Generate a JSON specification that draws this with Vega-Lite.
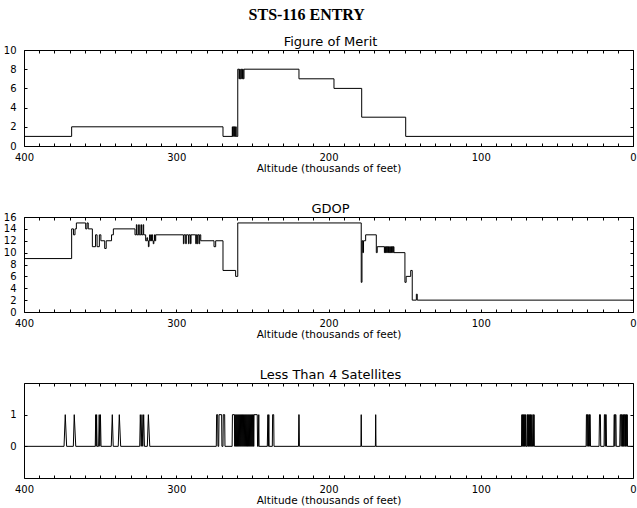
{
"$schema": "https://vega.github.io/schema/vega-lite/v6.json",
"padding": {"left": 3, "top": 7, "right": 3, "bottom": 2},
"title": {"text": "STS-116 ENTRY", "font": "Liberation Serif", "fontSize": 16, "fontWeight": "bold", "anchor": "middle", "offset": 13, "dx": -13, "color": "black"},
"bounds": "flush",
"spacing": 71,
"datasets": {
"fom": [
{"alt":0,"v":1},{"alt":149.3,"v":3},{"alt":178.2,"v":6},{"alt":196.4,"v":7},{"alt":219.4,"v":8},{"alt":255.5,"v":7},{"alt":256,"v":8},{"alt":256.5,"v":7},{"alt":257,"v":8},{"alt":257.5,"v":7},{"alt":258,"v":8},{"alt":258.4,"v":7},{"alt":258.8,"v":8},{"alt":259.6,"v":1},{"alt":260.6,"v":2},{"alt":261,"v":1},{"alt":261.4,"v":2},{"alt":261.8,"v":1},{"alt":262.2,"v":2},{"alt":262.6,"v":1},{"alt":263,"v":2},{"alt":263.2,"v":1},{"alt":269.3,"v":2},{"alt":368.7,"v":1},{"alt":400,"v":1}
],
"gdop": [
{"alt":0,"v":2},{"alt":141.7,"v":3},{"alt":142.3,"v":2},{"alt":145,"v":7},{"alt":146,"v":6},{"alt":149,"v":5},{"alt":149.8,"v":10},{"alt":157,"v":11},{"alt":157.4,"v":10},{"alt":157.8,"v":11},{"alt":158.2,"v":10},{"alt":158.6,"v":11},{"alt":159,"v":10},{"alt":159.4,"v":11},{"alt":159.8,"v":10},{"alt":160.2,"v":11},{"alt":160.6,"v":10},{"alt":161,"v":11},{"alt":161.4,"v":10},{"alt":161.8,"v":11},{"alt":162.2,"v":10},{"alt":162.6,"v":11},{"alt":163,"v":10},{"alt":163.3,"v":11},{"alt":168,"v":10},{"alt":168.6,"v":13},{"alt":175.6,"v":12},{"alt":177,"v":10},{"alt":177.5,"v":12},{"alt":178,"v":5},{"alt":178.5,"v":15},{"alt":259.6,"v":6},{"alt":261,"v":7},{"alt":269.3,"v":12},{"alt":274.1,"v":11},{"alt":275.2,"v":12},{"alt":283.9,"v":13},{"alt":284.6,"v":11.5},{"alt":285,"v":13},{"alt":285.8,"v":11.5},{"alt":286.2,"v":13},{"alt":286.8,"v":11.5},{"alt":287.2,"v":13},{"alt":290.3,"v":11.5},{"alt":290.7,"v":13},{"alt":291.6,"v":11.5},{"alt":292,"v":13},{"alt":293.4,"v":11.5},{"alt":293.8,"v":13},{"alt":294.9,"v":11.5},{"alt":295.3,"v":13},{"alt":313.5,"v":12},{"alt":313.9,"v":13},{"alt":314.3,"v":12},{"alt":314.7,"v":11.5},{"alt":315.1,"v":12},{"alt":315.5,"v":13},{"alt":315.9,"v":12},{"alt":316.3,"v":13},{"alt":316.7,"v":12},{"alt":317.1,"v":13},{"alt":317.5,"v":12},{"alt":317.9,"v":11},{"alt":318.3,"v":12},{"alt":318.8,"v":12.5},{"alt":319.3,"v":12},{"alt":320.1,"v":13},{"alt":321.4,"v":14.7},{"alt":321.8,"v":13},{"alt":322.8,"v":14.7},{"alt":323.2,"v":13},{"alt":324.3,"v":14.7},{"alt":324.7,"v":13},{"alt":325.8,"v":14.7},{"alt":326.2,"v":13},{"alt":327.1,"v":14},{"alt":341.3,"v":13},{"alt":342.5,"v":12},{"alt":346,"v":10.7},{"alt":347,"v":12},{"alt":349.5,"v":13},{"alt":350.5,"v":11},{"alt":352,"v":13},{"alt":353,"v":11},{"alt":355.1,"v":14},{"alt":357.8,"v":15},{"alt":358.6,"v":14},{"alt":359.5,"v":15},{"alt":365.6,"v":14},{"alt":366.5,"v":13},{"alt":367.5,"v":14},{"alt":368.7,"v":9},{"alt":400,"v":9}
],
"sat": [
{"alt":0,"v":0},
{"alt":3.6,"v":0},{"alt":3.8,"v":1},{"alt":4.1,"v":0},{"alt":4.3,"v":1},{"alt":4.6,"v":1},{"alt":4.8,"v":0},{"alt":5.0,"v":1},{"alt":5.3,"v":0},{"alt":5.5,"v":1},{"alt":5.8,"v":1},{"alt":6.0,"v":0},{"alt":6.2,"v":1},{"alt":6.5,"v":0},{"alt":6.7,"v":1},{"alt":7.0,"v":0},{"alt":7.2,"v":1},{"alt":7.6,"v":1},{"alt":7.8,"v":0},{"alt":8.1,"v":1},{"alt":8.4,"v":1},{"alt":8.7,"v":0},
{"alt":11.0,"v":0},{"alt":11.2,"v":1},{"alt":11.6,"v":1},{"alt":11.9,"v":0},{"alt":12.1,"v":1},{"alt":12.4,"v":1},{"alt":12.6,"v":0},
{"alt":17.4,"v":0},{"alt":17.6,"v":1},{"alt":18.0,"v":1},{"alt":18.2,"v":0},{"alt":18.5,"v":1},{"alt":18.8,"v":1},{"alt":19.0,"v":0},
{"alt":21.2,"v":0},{"alt":21.4,"v":1},{"alt":22.0,"v":1},{"alt":22.3,"v":0},
{"alt":27.9,"v":0},{"alt":28.1,"v":1},{"alt":28.5,"v":1},{"alt":28.7,"v":0},{"alt":28.9,"v":1},{"alt":29.3,"v":0},{"alt":29.5,"v":1},{"alt":29.9,"v":1},{"alt":30.1,"v":0},{"alt":30.3,"v":1},{"alt":30.6,"v":1},{"alt":30.8,"v":0},
{"alt":64.8,"v":0},{"alt":65.0,"v":1},{"alt":65.3,"v":0},{"alt":65.5,"v":1},{"alt":65.8,"v":1},{"alt":66.0,"v":0},{"alt":66.6,"v":0},{"alt":66.8,"v":1},{"alt":67.1,"v":0},{"alt":67.3,"v":1},{"alt":67.6,"v":0},{"alt":67.8,"v":1},{"alt":68.1,"v":0},{"alt":68.3,"v":1},{"alt":68.6,"v":0},{"alt":68.8,"v":1},{"alt":69.1,"v":0},{"alt":69.3,"v":1},{"alt":69.5,"v":1},{"alt":69.7,"v":0},{"alt":70.3,"v":0},{"alt":70.5,"v":1},{"alt":70.8,"v":0},{"alt":71.0,"v":1},{"alt":71.3,"v":0},{"alt":71.5,"v":1},{"alt":71.8,"v":0},{"alt":72.0,"v":1},{"alt":72.3,"v":0},{"alt":72.5,"v":1},{"alt":72.8,"v":0},{"alt":73.0,"v":1},{"alt":73.2,"v":0},
{"alt":168.8,"v":0},{"alt":169.0,"v":1},{"alt":169.2,"v":0},
{"alt":178.3,"v":0},{"alt":178.5,"v":1},{"alt":178.7,"v":0},
{"alt":219.1,"v":0},{"alt":219.3,"v":1},{"alt":219.5,"v":1},{"alt":219.7,"v":0},
{"alt":235.8,"v":0},{"alt":236.0,"v":1},{"alt":236.7,"v":1},{"alt":236.9,"v":0},{"alt":239.0,"v":0},{"alt":239.2,"v":1},{"alt":239.5,"v":0},{"alt":239.8,"v":1},{"alt":240.2,"v":0},
{"alt":245.6,"v":0},{"alt":245.8,"v":1},{"alt":246.1,"v":0},{"alt":246.6,"v":0},{"alt":246.8,"v":1},{"alt":248.9,"v":1},{"alt":249.1,"v":0},{"alt":249.3,"v":1},{"alt":249.6,"v":0},{"alt":249.9,"v":1},{"alt":250.2,"v":0},{"alt":250.5,"v":1},{"alt":250.8,"v":0},{"alt":251.1,"v":1},{"alt":251.4,"v":0},{"alt":251.7,"v":1},{"alt":252.0,"v":0},{"alt":252.3,"v":1},{"alt":252.6,"v":0},{"alt":252.9,"v":1},{"alt":253.2,"v":0},{"alt":253.5,"v":1},{"alt":253.8,"v":0},{"alt":254.1,"v":1},{"alt":254.4,"v":0},{"alt":254.7,"v":1},{"alt":255.0,"v":0},{"alt":255.3,"v":1},{"alt":255.6,"v":0},{"alt":255.9,"v":1},{"alt":256.2,"v":0},{"alt":256.5,"v":1},{"alt":256.8,"v":0},{"alt":257.1,"v":1},{"alt":257.4,"v":0},{"alt":257.7,"v":1},{"alt":258.0,"v":0},{"alt":258.3,"v":1},{"alt":258.6,"v":0},{"alt":258.9,"v":1},{"alt":259.2,"v":0},{"alt":259.5,"v":1},{"alt":259.8,"v":0},{"alt":260.1,"v":1},{"alt":260.4,"v":0},{"alt":260.7,"v":1},{"alt":261.0,"v":0},{"alt":261.3,"v":1},{"alt":261.6,"v":0},{"alt":261.8,"v":1},{"alt":263.1,"v":1},{"alt":263.3,"v":0},
{"alt":268.0,"v":0},{"alt":268.2,"v":1},{"alt":269.1,"v":1},{"alt":269.3,"v":0},{"alt":270.0,"v":0},{"alt":270.2,"v":1},{"alt":271.9,"v":1},{"alt":272.1,"v":0},{"alt":272.6,"v":0},{"alt":272.8,"v":1},{"alt":273.5,"v":1},{"alt":273.7,"v":0},
{"alt":317.4,"v":0},{"alt":318.3,"v":1},{"alt":319.0,"v":0},
{"alt":320.9,"v":0},{"alt":321.4,"v":1},{"alt":322.0,"v":0},{"alt":322.5,"v":1},{"alt":323.0,"v":0},{"alt":323.6,"v":1},{"alt":324.0,"v":0},
{"alt":336.5,"v":0},{"alt":337.4,"v":1},{"alt":338.1,"v":0},
{"alt":341.4,"v":0},{"alt":342.0,"v":1},{"alt":342.7,"v":0},
{"alt":349.4,"v":0},{"alt":349.8,"v":1},{"alt":350.2,"v":0},{"alt":350.6,"v":1},{"alt":351.0,"v":0},{"alt":352.0,"v":0},{"alt":352.3,"v":1},{"alt":352.6,"v":0},{"alt":352.9,"v":1},{"alt":353.2,"v":0},
{"alt":366.0,"v":0},{"alt":367.0,"v":1},{"alt":367.6,"v":0},
{"alt":372.0,"v":0},{"alt":372.9,"v":1},{"alt":373.7,"v":0},
{"alt":400,"v":0}
]
},
"vconcat": [
{
"width": 609, "height": 96,
"title": {"text": "Figure of Merit", "font": "DejaVu Sans", "fontSize": 13, "fontWeight": "normal", "anchor": "middle", "baseline": "alphabetic", "offset": -14, "dx": 2, "color": "black"},
"data": {"name": "fom"},
"layer": [
{"mark": {"type": "line", "interpolate": "step-before", "color": "black", "strokeWidth": 1},
"encoding": {
"x": {"field": "alt", "type": "quantitative", "scale": {"domain": [0, 400], "reverse": true, "nice": false, "zero": false},
"axis": {"orient": "bottom", "values": [0,10,20,30,40,50,60,70,80,90,100,110,120,130,140,150,160,170,180,190,200,210,220,230,240,250,260,270,280,290,300,310,320,330,340,350,360,370,380,390,400], "labelExpr": "datum.value % 100 === 0 ? datum.label : ''", "title": "Altitude (thousands of feet)"}},
"y": {"field": "v", "type": "quantitative", "scale": {"domain": [0, 10], "nice": false, "zero": false}, "axis": {"orient": "left", "values": [0,2,4,6,8,10], "title": null, "labelPadding": 11}}
}},
{"mark": {"type": "line", "interpolate": "step-before", "strokeOpacity": 0},
"encoding": {
"x": {"field": "alt", "type": "quantitative", "axis": {"orient": "top", "values": [0,10,20,30,40,50,60,70,80,90,100,110,120,130,140,150,160,170,180,190,200,210,220,230,240,250,260,270,280,290,300,310,320,330,340,350,360,370,380,390,400], "labels": false, "title": null}},
"y": {"field": "v", "type": "quantitative", "axis": {"orient": "right", "values": [0,2,4,6,8,10], "labels": false, "title": null}}
}}
],
"resolve": {"axis": {"x": "independent", "y": "independent"}}
},
{
"width": 609, "height": 95,
"title": {"text": "GDOP", "font": "DejaVu Sans", "fontSize": 13, "fontWeight": "normal", "anchor": "middle", "baseline": "alphabetic", "offset": -14, "dx": 2, "color": "black"},
"data": {"name": "gdop"},
"layer": [
{"mark": {"type": "line", "interpolate": "step-before", "color": "black", "strokeWidth": 1},
"encoding": {
"x": {"field": "alt", "type": "quantitative", "scale": {"domain": [0, 400], "reverse": true, "nice": false, "zero": false},
"axis": {"orient": "bottom", "values": [0,10,20,30,40,50,60,70,80,90,100,110,120,130,140,150,160,170,180,190,200,210,220,230,240,250,260,270,280,290,300,310,320,330,340,350,360,370,380,390,400], "labelExpr": "datum.value % 100 === 0 ? datum.label : ''", "title": "Altitude (thousands of feet)"}},
"y": {"field": "v", "type": "quantitative", "scale": {"domain": [0, 16], "nice": false, "zero": false}, "axis": {"orient": "left", "values": [0,2,4,6,8,10,12,14,16], "title": null, "labelPadding": 11}}
}},
{"mark": {"type": "line", "interpolate": "step-before", "strokeOpacity": 0},
"encoding": {
"x": {"field": "alt", "type": "quantitative", "axis": {"orient": "top", "values": [0,10,20,30,40,50,60,70,80,90,100,110,120,130,140,150,160,170,180,190,200,210,220,230,240,250,260,270,280,290,300,310,320,330,340,350,360,370,380,390,400], "labels": false, "title": null}},
"y": {"field": "v", "type": "quantitative", "axis": {"orient": "right", "values": [0,2,4,6,8,10,12,14,16], "labels": false, "title": null}}
}}
],
"resolve": {"axis": {"x": "independent", "y": "independent"}}
},
{
"width": 609, "height": 95,
"title": {"text": "Less Than 4 Satellites", "font": "DejaVu Sans", "fontSize": 13, "fontWeight": "normal", "anchor": "middle", "baseline": "alphabetic", "offset": -9, "dx": 2, "color": "black"},
"data": {"name": "sat"},
"layer": [
{"mark": {"type": "line", "color": "black", "strokeWidth": 1},
"encoding": {
"x": {"field": "alt", "type": "quantitative", "scale": {"domain": [0, 400], "reverse": true, "nice": false, "zero": false},
"axis": {"orient": "bottom", "values": [0,10,20,30,40,50,60,70,80,90,100,110,120,130,140,150,160,170,180,190,200,210,220,230,240,250,260,270,280,290,300,310,320,330,340,350,360,370,380,390,400], "labelExpr": "datum.value % 100 === 0 ? datum.label : ''", "title": "Altitude (thousands of feet)"}},
"y": {"field": "v", "type": "quantitative", "scale": {"domain": [-1, 2], "nice": false, "zero": false}, "axis": {"orient": "left", "values": [0,1], "title": null, "labelPadding": 11}}
}},
{"mark": {"type": "line", "strokeOpacity": 0},
"encoding": {
"x": {"field": "alt", "type": "quantitative", "axis": {"orient": "top", "values": [0,10,20,30,40,50,60,70,80,90,100,110,120,130,140,150,160,170,180,190,200,210,220,230,240,250,260,270,280,290,300,310,320,330,340,350,360,370,380,390,400], "labels": false, "title": null}},
"y": {"field": "v", "type": "quantitative", "axis": {"orient": "right", "values": [0,1], "labels": false, "title": null}}
}}
],
"resolve": {"axis": {"x": "independent", "y": "independent"}}
}
],
"config": {
"font": "DejaVu Sans",
"view": {"stroke": null},
"axis": {"domainColor": "black", "domainWidth": 1, "tickColor": "black", "tickWidth": 1, "tickSize": -3, "labelColor": "black", "titleColor": "black", "grid": false, "labelFont": "DejaVu Sans", "labelFontSize": 10, "titleFont": "DejaVu Sans", "titleFontSize": 10.5, "titleFontWeight": "normal", "labelOverlap": false, "labelFlush": false, "labelPadding": 9, "titlePadding": 1}
}
}
